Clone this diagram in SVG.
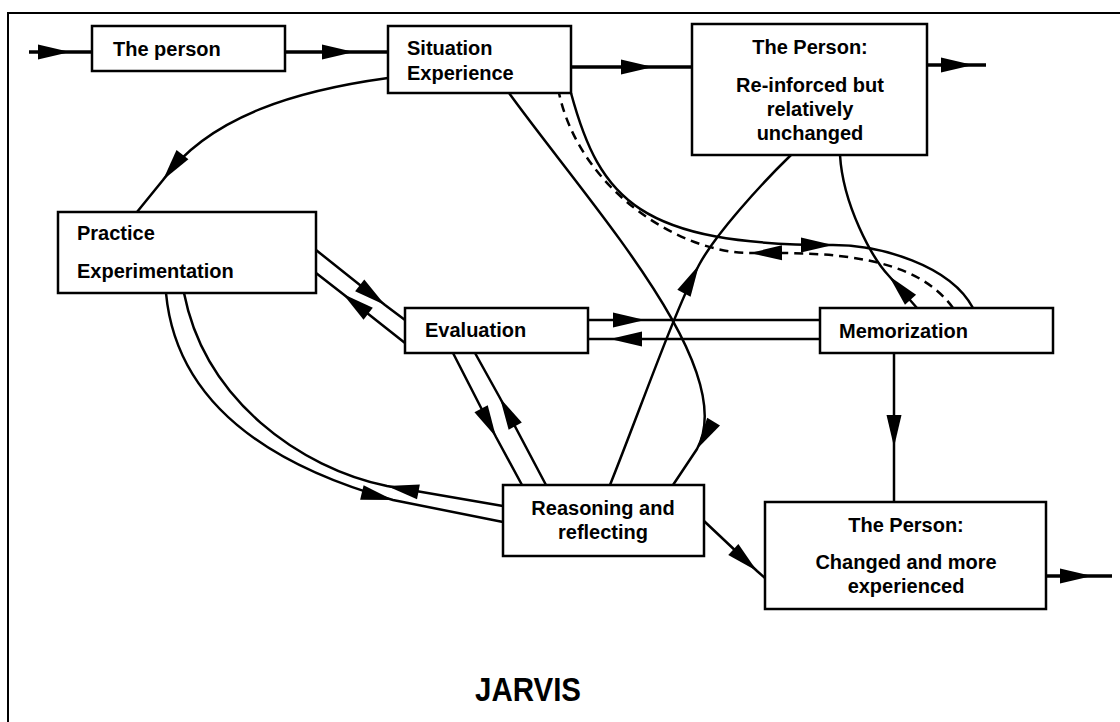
<svg xmlns="http://www.w3.org/2000/svg" width="1120" height="722" viewBox="0 0 1120 722">
<style>
.box{fill:#fff;stroke:#000;stroke-width:2.5}
.t{font-family:"Liberation Sans",Arial,sans-serif;font-weight:bold;font-size:20px;fill:#000}
.m{text-anchor:middle}
.c{fill:none;stroke:#000;stroke-width:2.5;marker-mid:url(#ah)}
.thick{stroke-width:3.5}
.dash{stroke-dasharray:9 6}
.frame{fill:none;stroke:#000;stroke-width:2}
</style>
<defs>
<marker id="ah" markerUnits="userSpaceOnUse" viewBox="-40 -10 44 20" markerWidth="44" markerHeight="20" refX="0" refY="0" orient="auto" style="overflow:visible">
<path d="M0,0 L-32,-7.5 L-32,7.5 Z" fill="#000" stroke="none"/>
</marker>
</defs>
<g id="frame"><path class="frame" d="M8,722 L8,13 L1120,13"/></g>
<g id="connectors">
<path class="c thick" d="M29,52 L70,52 L92,52"/>
<path class="c thick" d="M285,52 L354,52 L388,52"/>
<path class="c thick" d="M571,67 L653,67 L692,67"/>
<path class="c thick" d="M927,65 L973,65 L986,65"/>
<path class="c" d="M388,78 C300,90 210,115 163,180 L137,212"/>
<path class="c" d="M316,250 L385,305 L405,320"/>
<path class="c" d="M405,343 L343,294 L316,273"/>
<path class="c" d="M588,320 L645,320 L820,320"/>
<path class="c" d="M820,339 L610,339 L588,339"/>
<path class="c" d="M453,353 L496,437 L522,485"/>
<path class="c" d="M546,485 L500,398 L475,353"/>
<path class="c" d="M166,293 C175,390 250,460 393,500 L503,522"/>
<path class="c" d="M503,506 L387,486 C300,468 205,400 184,293"/>
<path class="c" d="M509,93 C590,205 741,369 697,449 L673,485"/>
<path class="c" d="M610,485 C640,410 675,310 699,265 C715,235 760,185 791,155"/>
<path class="c" d="M917,308 L889,276 C872,258 843,205 840,155"/>
<path class="c" d="M571,93 C600,200 640,245 833,245 C880,245 950,265 973,308"/>
<path class="c dash" d="M953,308 C915,255 830,252 750,253 C680,253 580,190 559,93"/>
<path class="c" d="M894,353 L894,447 L894,502"/>
<path class="c" d="M704,521 L757,571 L765,578"/>
<path class="c thick" d="M1046,576 L1092,576 L1112,576"/>
</g>
<g id="n1"><rect class="box" x="92" y="26" width="193" height="45"/><text class="t" x="113" y="56">The person</text></g>
<g id="n2"><rect class="box" x="388" y="26" width="183" height="67"/><text class="t" x="407" y="55">Situation</text><text class="t" x="407" y="80">Experience</text></g>
<g id="n3"><rect class="box" x="692" y="24" width="235" height="131"/><text class="t m" x="810" y="54">The Person:</text><text class="t m" x="810" y="92">Re-inforced but</text><text class="t m" x="810" y="116">relatively</text><text class="t m" x="810" y="140">unchanged</text></g>
<g id="n4"><rect class="box" x="58" y="212" width="258" height="81"/><text class="t" x="77" y="240">Practice</text><text class="t" x="77" y="278">Experimentation</text></g>
<g id="n5"><rect class="box" x="405" y="308" width="183" height="45"/><text class="t" x="425" y="337">Evaluation</text></g>
<g id="n6"><rect class="box" x="820" y="308" width="233" height="45"/><text class="t" x="839" y="338">Memorization</text></g>
<g id="n7"><rect class="box" x="503" y="485" width="201" height="71"/><text class="t m" x="603" y="515">Reasoning and</text><text class="t m" x="603" y="539">reflecting</text></g>
<g id="n8"><rect class="box" x="765" y="502" width="281" height="107"/><text class="t m" x="906" y="532">The Person:</text><text class="t m" x="906" y="569">Changed and more</text><text class="t m" x="906" y="593">experienced</text></g>
<g id="title"><text class="t m" x="528" y="701" style="font-size:34px" textLength="106" lengthAdjust="spacingAndGlyphs">JARVIS</text></g>
</svg>
